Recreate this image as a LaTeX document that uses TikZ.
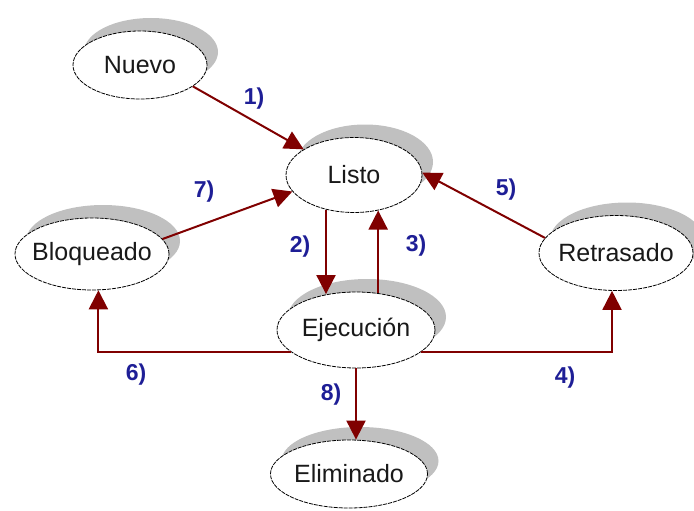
\documentclass[tikz,border=0pt]{standalone}
\usepackage{fontspec}
\setmainfont{Liberation Sans}
\usetikzlibrary{shapes.geometric,arrows.meta}
\definecolor{arrred}{RGB}{128,0,0}
\definecolor{lblblue}{RGB}{30,30,150}
\definecolor{shadowgray}{RGB}{192,192,192}
\begin{document}
\begin{tikzpicture}[x=1pt,y=-1pt,
  state/.style={ellipse, draw=black, line width=0.8pt, dash pattern=on 4pt off 1pt,
    fill=white, inner xsep=-10pt, inner ysep=0pt, text=black!90, font=\fontsize{25}{28}\selectfont},
  shadestate/.style={ellipse, fill=shadowgray, draw=none, inner sep=0pt},
  arr/.style={color=arrred, line width=2pt, -{Triangle[length=19pt,width=19pt]}},
  lbl/.style={text=lblblue, font=\fontsize{23}{26}\selectfont\bfseries}]
\useasboundingbox (0,0) rectangle (694,511);
% shadows
\node[shadestate, minimum width=134pt, minimum height=68pt] (sNuevo) at (151,52) {};
\node[shadestate, minimum width=136pt, minimum height=75pt] (sListo) at (365,162) {};
\node[shadestate, minimum width=154pt, minimum height=72pt] (sBloq) at (103,241) {};
\node[shadestate, minimum width=158pt, minimum height=76pt] (sEjec) at (367,317) {};
\node[shadestate, minimum width=154pt, minimum height=75pt] (sRetr) at (627,240) {};
\node[shadestate, minimum width=157pt, minimum height=68pt] (sElim) at (360,461) {};
% states
\node[state, minimum width=134pt, minimum height=68pt] (Nuevo) at (140,65) {Nuevo};
\node[state, minimum width=136pt, minimum height=75pt] (Listo) at (354,175) {Listo};
\node[state, minimum width=154pt, minimum height=72pt] (Bloq) at (92,254) {Bloqueado};
\node[state, minimum width=158pt, minimum height=76pt] (Ejec) at (356,330) {Ejecución};
\node[state, minimum width=154pt, minimum height=75pt] (Retr) at (616,253) {Retrasado};
\node[state, minimum width=157pt, minimum height=68pt] (Elim) at (349,474) {Eliminado};
% transitions
\draw[arr] (Nuevo.-22) -- (Listo.153);
\draw[arr] (Bloq.12) -- (Listo.195);
\draw[arr] (Retr.168) -- (Listo.2);
\draw[arr] (Listo.231) -- (Listo.231 |- Ejec.128);
\draw[arr] (Ejec.59) -- (Ejec.59 |- Listo.-56);
\draw[arr] (Ejec.199) -| (Bloq.280);
\draw[arr] (Ejec.-19) -| (Retr.264);
\draw[arr] (Ejec.south) -- (Ejec.south |- Elim.north);
% labels
\node[lbl] (l1) at (254,99) {1)};
\node[lbl] (l2) at (300,247) {2)};
\node[lbl] (l3) at (416,246) {3)};
\node[lbl] (l4) at (565,378) {4)};
\node[lbl] (l5) at (506,190) {5)};
\node[lbl] (l6) at (136,375) {6)};
\node[lbl] (l7) at (204,192) {7)};
\node[lbl] (l8) at (331,395) {8)};
\end{tikzpicture}
\end{document}
